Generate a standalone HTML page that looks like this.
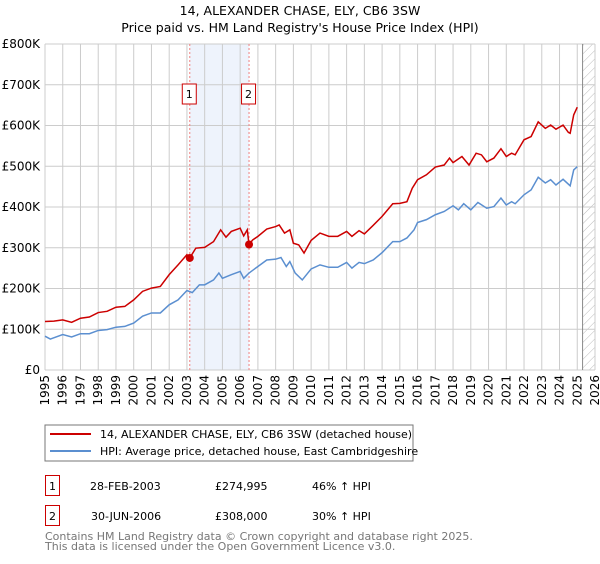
<!DOCTYPE html>
<html><head><meta charset="utf-8"><style>
body{margin:0;background:#fff;font-family:"DejaVu Sans","Liberation Sans",sans-serif;}
svg text{font-family:"DejaVu Sans","Liberation Sans",sans-serif;}
</style></head><body>
<svg id="c" width="600" height="560" viewBox="0 0 600 560">
<defs><pattern id="hatch" width="6" height="6" patternUnits="userSpaceOnUse" patternTransform="rotate(45)"><line x1="0" y1="0" x2="0" y2="6" stroke="#bbb" stroke-width="1"/></pattern></defs>
<text x="300" y="15" text-anchor="middle" font-size="12.5" fill="#000">14, ALEXANDER CHASE, ELY, CB6 3SW</text>
<text x="300" y="32" text-anchor="middle" font-size="12.5" fill="#000">Price paid vs. HM Land Registry's House Price Index (HPI)</text>
<g id="grid"></g>
<g id="marks"></g>
<rect x="45" y="425" width="368" height="36" fill="#fff" stroke="#777"/>
<line x1="50" y1="434" x2="91" y2="434" stroke="#cc0000" stroke-width="2"/>
<text x="100" y="438" font-size="11">14, ALEXANDER CHASE, ELY, CB6 3SW (detached house)</text>
<line x1="50" y1="451" x2="91" y2="451" stroke="#5b8fd0" stroke-width="2"/>
<text x="100" y="455" font-size="11">HPI: Average price, detached house, East Cambridgeshire</text>
<g>
<rect x="45.5" y="475.5" width="14" height="20" fill="none" stroke="#cc0000"/><text x="52.5" y="490" text-anchor="middle" font-size="11">1</text>
<text x="90" y="490" font-size="11">28-FEB-2003</text><text x="215" y="490" font-size="11">£274,995</text><text x="312" y="490" font-size="11">46% ↑ HPI</text></g>
<g>
<rect x="45.5" y="505.5" width="14" height="20" fill="none" stroke="#cc0000"/><text x="52.5" y="520" text-anchor="middle" font-size="11">2</text>
<text x="91" y="520" font-size="11">30-JUN-2006</text><text x="215" y="520" font-size="11">£308,000</text><text x="312" y="520" font-size="11">30% ↑ HPI</text></g>
<text x="45" y="540" font-size="11" fill="#777">Contains HM Land Registry data © Crown copyright and database right 2025.</text>
<text x="45" y="550" font-size="11" fill="#777">This data is licensed under the Open Government Licence v3.0.</text>
</svg>
<script>
const yTicks=[0,100,200,300,400,500,600,700,800];
const yTickLabels=["£0","£100K","£200K","£300K","£400K","£500K","£600K","£700K","£800K"];
const xYears=[1995,1996,1997,1998,1999,2000,2001,2002,2003,2004,2005,2006,2007,2008,2009,2010,2011,2012,2013,2014,2015,2016,2017,2018,2019,2020,2021,2022,2023,2024,2025,2026];
const saleDates=[2003.16,2006.5];
const salePrices=[275,308];
const saleLabels=["1","2"];
const redT=[1995,1995.5,1996,1996.5,1997,1997.5,1998,1998.5,1999,1999.5,2000,2000.5,2001,2001.5,2002,2002.5,2003,2003.16,2003.5,2004,2004.5,2004.9,2005.2,2005.5,2006,2006.2,2006.4,2006.5,2006.7,2007,2007.5,2008,2008.2,2008.5,2008.8,2009,2009.3,2009.6,2010,2010.5,2011,2011.5,2012,2012.3,2012.7,2013,2013.5,2014,2014.6,2015,2015.4,2015.7,2016,2016.5,2017,2017.5,2017.8,2018,2018.5,2018.9,2019.3,2019.6,2019.9,2020.3,2020.7,2021,2021.3,2021.5,2022,2022.4,2022.8,2023.2,2023.5,2023.8,2024.2,2024.5,2024.6,2024.8,2025];
const redV=[119,120,123,117,127,130,141,144,154,156,172,193,201,205,234,258,283,275,299,301,315,344,326,340,348,329,344,308,319,328,346,352,356,336,344,311,307,287,318,336,328,328,340,328,342,334,355,377,408,409,413,446,467,479,498,503,520,509,524,503,532,528,511,520,543,524,532,528,565,573,609,593,601,591,601,583,581,626,645];
const blueT=[1995,1995.3,1996,1996.5,1997,1997.5,1998,1998.5,1999,1999.5,2000,2000.5,2001,2001.5,2002,2002.5,2003,2003.3,2003.7,2004,2004.5,2004.8,2005,2005.5,2006,2006.2,2006.5,2007,2007.5,2008,2008.3,2008.6,2008.8,2009.1,2009.5,2010,2010.5,2011,2011.5,2012,2012.3,2012.7,2013,2013.5,2014,2014.6,2015,2015.4,2015.8,2016,2016.5,2017,2017.5,2018,2018.3,2018.6,2019,2019.4,2019.9,2020.3,2020.7,2021,2021.3,2021.5,2022,2022.4,2022.8,2023.2,2023.5,2023.8,2024.2,2024.6,2024.8,2025];
const blueV=[83,76,87,81,89,89,97,99,105,107,115,132,140,140,160,172,195,190,209,209,221,238,225,234,242,225,238,254,270,272,276,254,266,238,221,248,258,252,252,264,250,264,261,270,288,315,315,324,344,362,369,381,389,403,393,408,393,411,397,401,422,405,413,408,430,442,473,459,467,454,468,452,491,499];
const L=45,R=595,T=44,B=370;
const x=t=>L+(t-1995)/(2026-1995)*(R-L);
const y=v=>B-v/800*(B-T);
const NS="http://www.w3.org/2000/svg";
function mk(tag,attrs,parent){const e=document.createElementNS(NS,tag);for(const k in attrs)e.setAttribute(k,attrs[k]);parent.appendChild(e);return e;}
const g=document.getElementById('grid'),m=document.getElementById('marks');
const sh=mk('rect',{x:x(saleDates[0]),y:T,width:x(saleDates[1])-x(saleDates[0]),height:B-T,fill:'#eef3fc'},g);


const ht=mk('rect',{x:x(2025.3),y:T,width:R-x(2025.3),height:B-T,fill:'url(#hatch)'},g);


yTicks.forEach((v,i)=>{
 const ln=mk('line',{x1:L,x2:R,y1:y(v),y2:y(v),stroke:'#ccc','stroke-width':1},g);
 
 
 const t=mk('text',{x:40,y:y(v)+4,'text-anchor':'end','font-size':12},g);t.textContent=yTickLabels[i];
 
 
});
xYears.forEach(yr=>{
 const ln=mk('line',{x1:x(yr),x2:x(yr),y1:T,y2:B,stroke:'#ccc','stroke-width':1},g);
 
 
 const t=mk('text',{x:0,y:0,'text-anchor':'end','font-size':12,transform:`translate(${x(yr)+4},375) rotate(-90)`},g);t.textContent=yr;
 
 
});
const vl=mk('line',{x1:x(2025.3),x2:x(2025.3),y1:T,y2:B,stroke:'#888','stroke-width':1},g);


saleDates.forEach((d,i)=>{
 const ln=mk('line',{x1:x(d),x2:x(d),y1:T,y2:B,stroke:'#f08080','stroke-dasharray':'2,2','stroke-width':1},m);
 
 
 const bx=mk('rect',{x:x(d)-7.5,y:84,width:14,height:20,fill:'#fff',stroke:'#cc0000'},m);
 
 
 const t=mk('text',{x:x(d)-0.5,y:98,'text-anchor':'middle','font-size':11},m);t.textContent=saleLabels[i];
 
 
});
const pb=mk('polyline',{points:blueT.map((t,i)=>x(t)+','+y(blueV[i])).join(' '),fill:'none',stroke:'#5b8fd0','stroke-width':1.5},m);


const pr=mk('polyline',{points:redT.map((t,i)=>x(t)+','+y(redV[i])).join(' '),fill:'none',stroke:'#cc0000','stroke-width':1.5},m);


saleDates.forEach((d,i)=>{
 const c=mk('circle',{cx:x(d),cy:y(salePrices[i]),r:4,fill:'#cc0000'},m);
 
 
});
</script>
</body></html>
